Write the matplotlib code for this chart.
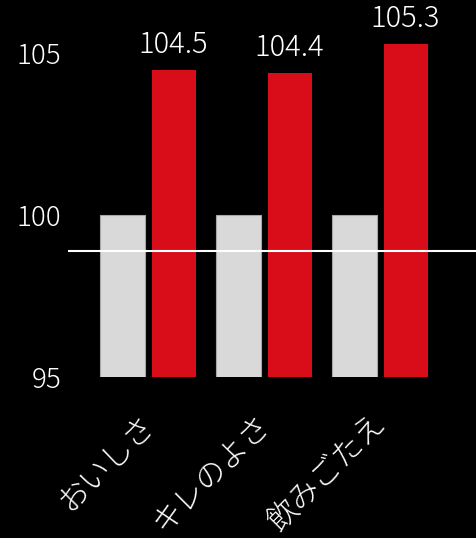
import matplotlib.pyplot as plt
import matplotlib.transforms as mtransforms
import numpy as np

plt.rcParams['font.family'] = ['Noto Sans CJK JP', 'DejaVu Sans']

categories = ['おいしさ', 'キレのよさ', '飲みごたえ']
base_values = [100, 100, 100]
new_values = [104.5, 104.4, 105.3]
ref_line = 98.9
yticks = [95, 100, 105]

fig = plt.figure(figsize=(4.77, 5.38), dpi=100)
fig.patch.set_facecolor('black')
ax = fig.add_axes([68 / 477, 0.299, 1 - 68 / 477, 0.662])
ax.set_facecolor('black')

x = np.arange(len(categories))
w = 0.38
gap = 0.03
ax.bar(x - w / 2 - gap, base_values, w, color='#d9d9d9', edgecolor='#a6a6a6', linewidth=0.8)
bars = ax.bar(x + w / 2 + gap, new_values, w, color='#d90d1a')
for b, v in zip(bars, new_values):
    ax.annotate(f'{v}', (b.get_x() + b.get_width() / 2, v), xytext=(0, 7),
                textcoords='offset points', ha='center', va='bottom',
                color='white', fontsize=21, fontweight='light', annotation_clip=False)

ax.axhline(ref_line, color='white', linewidth=1.5)

ax.set_ylim(95, 106)
ax.set_xlim(-0.69, 2.836)
ax.set_yticks(yticks)
ax.set_yticklabels([str(t) for t in yticks], color='white', fontsize=20, fontweight='light')
ax.set_xticks(x)
ax.set_xticklabels(categories, color='white', fontsize=22, fontweight='light',
                   rotation=45, ha='right', rotation_mode='anchor')
ax.tick_params(axis='both', length=0)
ax.tick_params(axis='x', pad=28)
ax.tick_params(axis='y', pad=5)
shift = mtransforms.ScaledTranslation(-0.1, 0.08, fig.dpi_scale_trans)
for lbl in ax.get_xticklabels():
    lbl.set_transform(lbl.get_transform() + shift)
for s in ax.spines.values():
    s.set_visible(False)

fig.savefig('out.png', dpi=100, facecolor='black')
